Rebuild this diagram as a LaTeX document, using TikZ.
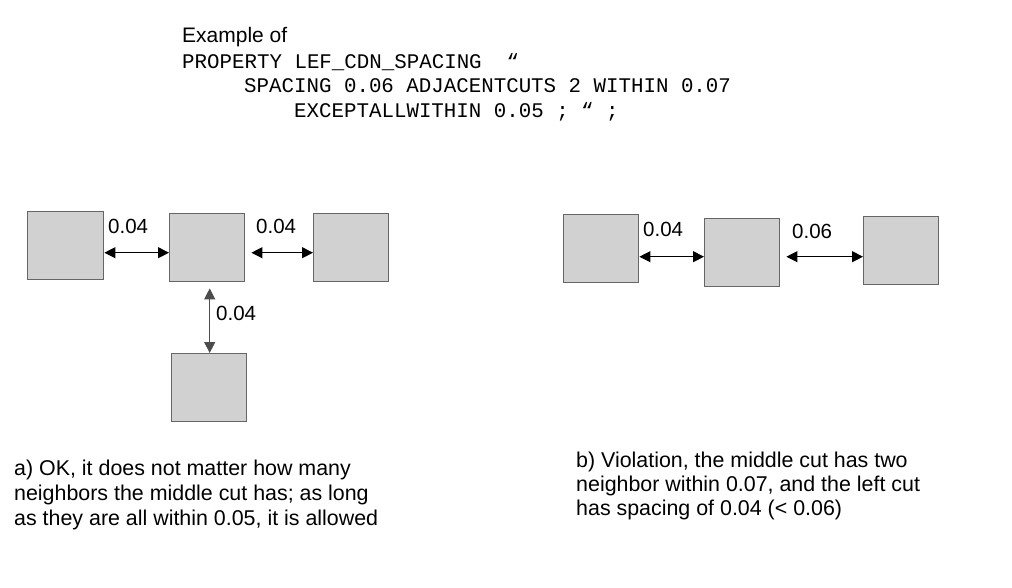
\documentclass[tikz,border=0pt]{standalone}
\usepackage{fontspec}
\setmainfont{Liberation Sans}
\newfontfamily\codefont{Liberation Mono}
\usetikzlibrary{arrows.meta}
\tikzset{
  cut/.style={draw=black!60, line width=1.4pt, fill=black!18, minimum width=75pt, minimum height=68pt, anchor=north west, inner sep=0pt},
  dim/.style={line width=1.1pt, {Triangle[length=11pt,width=11pt]}-{Triangle[length=11pt,width=11pt]}},
  lbl/.style={font=\fontsize{20.5}{24}\selectfont, anchor=base west, inner sep=0pt},
  codetxt/.style={font=\codefont\fontsize{20.8}{24}\selectfont, anchor=base west, inner sep=0pt},
  captxt/.style={font=\fontsize{21.4}{25}\selectfont, anchor=base west, inner sep=0pt}
}
\begin{document}
\begin{tikzpicture}[x=1pt,y=-1pt]
\path[use as bounding box, fill=white] (0,0) rectangle (1012,587);
% header
\node[lbl, font=\fontsize{21}{24}\selectfont] (ex) at (182,42) {Example of};
\node[codetxt] (c1) at (182,68) {PROPERTY LEF\_CDN\_SPACING~~“};
\node[codetxt] (c2) at (244,92) {SPACING 0.06 ADJACENTCUTS 2 WITHIN 0.07};
\node[codetxt] (c3) at (294,117) {EXCEPTALLWITHIN 0.05 ; “ ;};
% group a
\node[cut, minimum width=76pt] (A) at (27,211) {};
\node[cut] (B) at (169,213) {};
\node[cut] (C) at (313,213) {};
\node[cut] (D) at (171,353) {};
\draw[dim] ([yshift=-5pt]B.west -| A.east) -- ([yshift=-5pt]B.west);
\draw[dim] ([xshift=6pt,yshift=-5pt]B.east) -- ([yshift=-5pt]B.east -| C.west);
\draw[dim, draw=black!70] ([xshift=2.5pt,yshift=-6pt]B.south) -- ([xshift=2.5pt]B.south |- D.north);
\node[lbl] (la1) at (108,233) {0.04};
\node[lbl] (la2) at (256,233) {0.04};
\node[lbl] (la3) at (216,320) {0.04};
% group b
\node[cut] (E) at (563,214) {};
\node[cut] (F) at (704,218) {};
\node[cut] (G) at (863,216) {};
\draw[dim] ([yshift=-4pt]F.west -| E.east) -- ([yshift=-4pt]F.west);
\draw[dim] ([xshift=6pt,yshift=-4pt]F.east) -- ([yshift=-4pt]F.east -| G.west);
\node[lbl] (lb1) at (643,236) {0.04};
\node[lbl] (lb2) at (792,238) {0.06};
% captions
\node[captxt] (a1) at (14,475) {a) OK, it does not matter how many};
\node[captxt] (a2) at (14,500) {neighbors the middle cut has; as long};
\node[captxt] (a3) at (14,525) {as they are all within 0.05, it is allowed};
\node[captxt] (b1) at (576,467) {b) Violation, the middle cut has two};
\node[captxt] (b2) at (576,491) {neighbor within 0.07, and the left cut};
\node[captxt] (b3) at (576,515) {has spacing of 0.04 (< 0.06)};
\end{tikzpicture}
\end{document}
